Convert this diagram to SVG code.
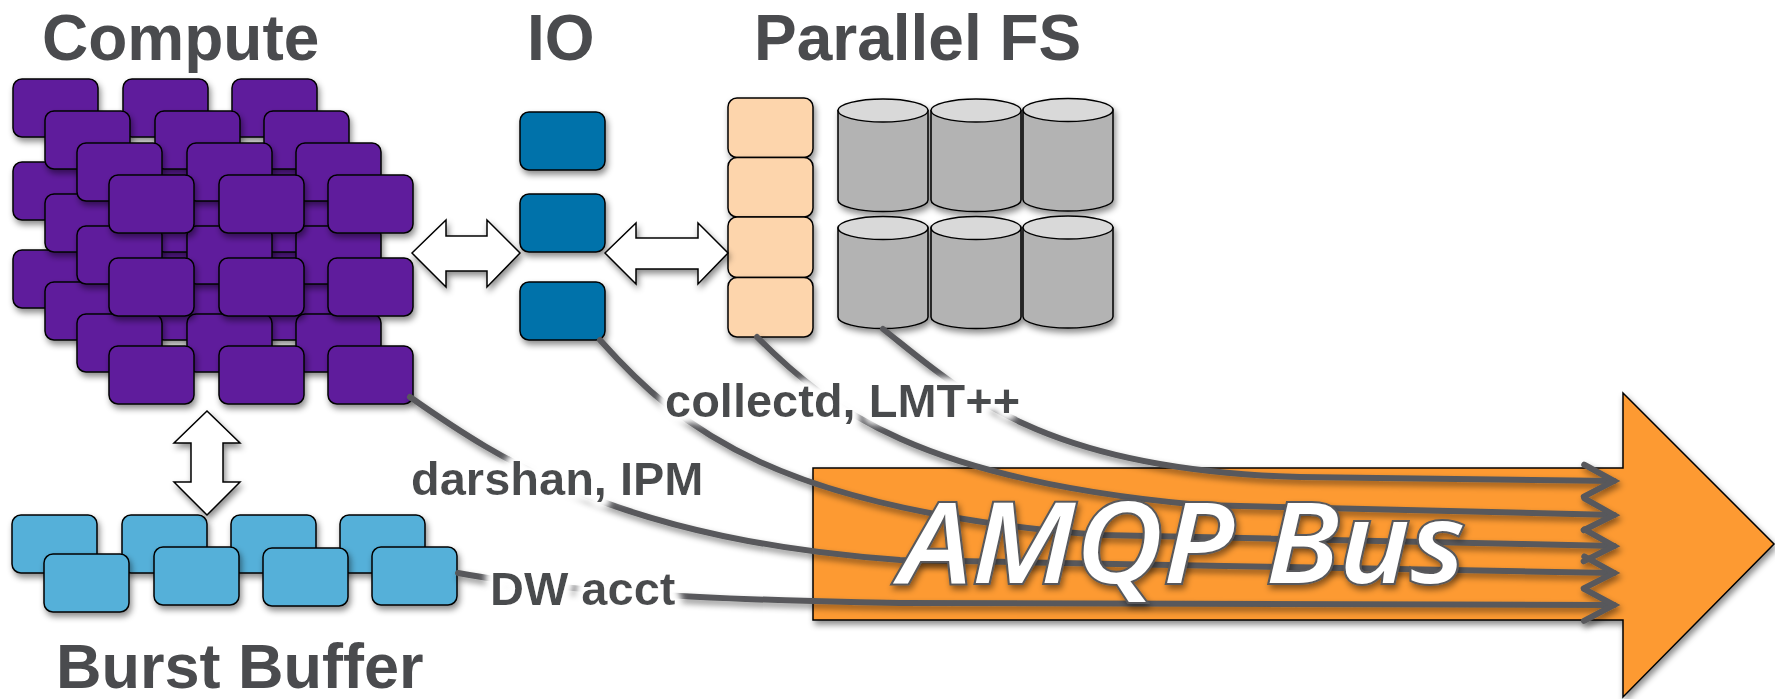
<svg xmlns="http://www.w3.org/2000/svg" width="1775" height="699" viewBox="0 0 1775 699">
<defs>
  <filter id="sh" x="-20%" y="-20%" width="140%" height="150%">
    <feDropShadow dx="2" dy="4" stdDeviation="3" flood-color="#000" flood-opacity="0.45"/>
  </filter>
  <filter id="glow" x="-10%" y="-30%" width="120%" height="160%">
    <feMorphology in="SourceAlpha" operator="dilate" radius="4" result="d"/>
    <feGaussianBlur in="d" stdDeviation="4" result="b"/>
    <feFlood flood-color="#fff"/>
    <feComposite in2="b" operator="in" result="g"/>
    <feMerge><feMergeNode in="g"/><feMergeNode in="g"/><feMergeNode in="g"/><feMergeNode in="SourceGraphic"/></feMerge>
  </filter>
  <marker id="chev" markerUnits="userSpaceOnUse" markerWidth="40" markerHeight="40" refX="0" refY="0" orient="auto" overflow="visible">
    <path d="M-30,-16 L0,0 L-30,16" fill="none" stroke="#58595b" stroke-width="6" stroke-linecap="round" stroke-linejoin="miter"/>
  </marker>
  <style>
    .cp{fill:#5f1f9c;stroke:#000;stroke-width:1.5;filter:url(#sh)}
    .io{fill:#0072aa;stroke:#000;stroke-width:1.5;filter:url(#sh)}
    .pe{fill:#fdd5ac;stroke:#000;stroke-width:1.5;filter:url(#sh)}
    .bb{fill:#54b0d9;stroke:#000;stroke-width:1.5;filter:url(#sh)}
    .cyb{fill:#b3b3b3;stroke:#000;stroke-width:1.5}
    .cyt{fill:#d9d9d9;stroke:#000;stroke-width:1.5}
    .dbl{fill:#fff;stroke:#000;stroke-width:1.5;filter:url(#sh)}
    .ttl{font-family:"Liberation Sans",Arial,sans-serif;font-weight:bold;fill:#4a4b4e}
    .lbl{font-family:"Liberation Sans",Arial,sans-serif;font-weight:bold;font-size:47px;fill:#4a4b4e;filter:url(#glow)}
    .ln{fill:none;stroke:#58595b;stroke-width:6;stroke-linecap:round;marker-end:url(#chev)}
  </style>
</defs>
<rect width="1775" height="699" fill="#fff"/>

<g id="bus">
  <polygon points="813,468 1623,468 1623,393 1774,544 1623,697 1623,620 813,620" fill="#fd9a32" stroke="#000" stroke-width="1.5" filter="url(#sh)"/>
</g>

<g id="compute">
  <text class="ttl" x="42" y="60" font-size="64">Compute</text>
  <rect class="cp" x="13" y="79" width="85" height="58" rx="9"/>
  <rect class="cp" x="123" y="79" width="85" height="58" rx="9"/>
  <rect class="cp" x="232" y="79" width="85" height="58" rx="9"/>
  <rect class="cp" x="13" y="162" width="85" height="58" rx="9"/>
  <rect class="cp" x="123" y="162" width="85" height="58" rx="9"/>
  <rect class="cp" x="232" y="162" width="85" height="58" rx="9"/>
  <rect class="cp" x="13" y="250" width="85" height="58" rx="9"/>
  <rect class="cp" x="123" y="250" width="85" height="58" rx="9"/>
  <rect class="cp" x="232" y="250" width="85" height="58" rx="9"/>
  <rect class="cp" x="45" y="111" width="85" height="58" rx="9"/>
  <rect class="cp" x="155" y="111" width="85" height="58" rx="9"/>
  <rect class="cp" x="264" y="111" width="85" height="58" rx="9"/>
  <rect class="cp" x="45" y="194" width="85" height="58" rx="9"/>
  <rect class="cp" x="155" y="194" width="85" height="58" rx="9"/>
  <rect class="cp" x="264" y="194" width="85" height="58" rx="9"/>
  <rect class="cp" x="45" y="282" width="85" height="58" rx="9"/>
  <rect class="cp" x="155" y="282" width="85" height="58" rx="9"/>
  <rect class="cp" x="264" y="282" width="85" height="58" rx="9"/>
  <rect class="cp" x="77" y="143" width="85" height="58" rx="9"/>
  <rect class="cp" x="187" y="143" width="85" height="58" rx="9"/>
  <rect class="cp" x="296" y="143" width="85" height="58" rx="9"/>
  <rect class="cp" x="77" y="226" width="85" height="58" rx="9"/>
  <rect class="cp" x="187" y="226" width="85" height="58" rx="9"/>
  <rect class="cp" x="296" y="226" width="85" height="58" rx="9"/>
  <rect class="cp" x="77" y="314" width="85" height="58" rx="9"/>
  <rect class="cp" x="187" y="314" width="85" height="58" rx="9"/>
  <rect class="cp" x="296" y="314" width="85" height="58" rx="9"/>
  <rect class="cp" x="109" y="175" width="85" height="58" rx="9"/>
  <rect class="cp" x="219" y="175" width="85" height="58" rx="9"/>
  <rect class="cp" x="328" y="175" width="85" height="58" rx="9"/>
  <rect class="cp" x="109" y="258" width="85" height="58" rx="9"/>
  <rect class="cp" x="219" y="258" width="85" height="58" rx="9"/>
  <rect class="cp" x="328" y="258" width="85" height="58" rx="9"/>
  <rect class="cp" x="109" y="346" width="85" height="58" rx="9"/>
  <rect class="cp" x="219" y="346" width="85" height="58" rx="9"/>
  <rect class="cp" x="328" y="346" width="85" height="58" rx="9"/>
</g>

<g id="io">
  <text class="ttl" x="527" y="60" font-size="64">IO</text>
  <rect class="io" x="520" y="112" width="85" height="58" rx="9"/>
  <rect class="io" x="520" y="194" width="85" height="58" rx="9"/>
  <rect class="io" x="520" y="282" width="85" height="58" rx="9"/>
</g>

<g id="pfs">
  <text class="ttl" x="754" y="60" font-size="64">Parallel FS</text>
  <rect class="pe" x="728" y="98" width="85" height="59.5" rx="9"/>
  <rect class="pe" x="728" y="157.5" width="85" height="59.5" rx="9"/>
  <rect class="pe" x="728" y="217" width="85" height="60.5" rx="9"/>
  <rect class="pe" x="728" y="277.5" width="85" height="59.5" rx="9"/>
  <g filter="url(#sh)">
    <path class="cyb" d="M838,110.5 V200 A45,11.5 0 0 0 928,200 V110.5 Z"/>
    <ellipse class="cyt" cx="883" cy="110.5" rx="45" ry="11.5"/>
    <path class="cyb" d="M931,110.5 V200 A45,11.5 0 0 0 1021,200 V110.5 Z"/>
    <ellipse class="cyt" cx="976" cy="110.5" rx="45" ry="11.5"/>
    <path class="cyb" d="M1023,110 V199.5 A45,11.5 0 0 0 1113,199.5 V110 Z"/>
    <ellipse class="cyt" cx="1068" cy="110" rx="45" ry="11.5"/>
    <path class="cyb" d="M838,228 V317 A45,11.5 0 0 0 928,317 V228 Z"/>
    <ellipse class="cyt" cx="883" cy="228" rx="45" ry="11.5"/>
    <path class="cyb" d="M931,228 V317 A45,11.5 0 0 0 1021,317 V228 Z"/>
    <ellipse class="cyt" cx="976" cy="228" rx="45" ry="11.5"/>
    <path class="cyb" d="M1023,227.5 V316.5 A45,11.5 0 0 0 1113,316.5 V227.5 Z"/>
    <ellipse class="cyt" cx="1068" cy="227.5" rx="45" ry="11.5"/>
  </g>
</g>

<g id="burstbuffer">
  <rect class="bb" x="12" y="515" width="85" height="58" rx="9"/>
  <rect class="bb" x="122" y="515" width="85" height="58" rx="9"/>
  <rect class="bb" x="231" y="515" width="85" height="58" rx="9"/>
  <rect class="bb" x="340" y="515" width="85" height="58" rx="9"/>
  <rect class="bb" x="44" y="554" width="85" height="58" rx="9"/>
  <rect class="bb" x="154" y="547" width="85" height="58" rx="9"/>
  <rect class="bb" x="263" y="548" width="85" height="58" rx="9"/>
  <rect class="bb" x="372" y="547" width="85" height="58" rx="9"/>
  <text class="ttl" x="56" y="688" font-size="63">Burst Buffer</text>
</g>

<g id="links">
  <polygon class="dbl" points="412,253 446,220 446,236 487,236 487,220 520,253 487,287 487,271 446,271 446,287"/>
  <polygon class="dbl" points="605,253 636,223 636,238 698,238 698,223 728,253 698,284 698,269 636,269 636,284"/>
  <polygon class="dbl" points="207,411 240,443 223,443 223,482 240,482 207,515 174,482 191,482 191,443 174,443"/>
</g>

<g id="connectors" filter="url(#sh)">
  <path class="ln" d="M883,329 C960,390 1040,470 1300,477 L1614,481"/>
  <path class="ln" d="M757,337 C830,410 920,480 1200,505 L1614,515"/>
  <path class="ln" d="M600,340 C680,430 780,510 1100,535 L1614,546"/>
  <path class="ln" d="M410,397 C500,460 620,540 900,560 L1614,573"/>
  <path class="ln" d="M458,573 C550,590 700,600 900,603 L1614,605"/>
</g>

<g id="labels">
  <text class="lbl" x="665" y="417">collectd, LMT++</text>
  <text class="lbl" x="411" y="495">darshan, IPM</text>
  <text class="lbl" x="490" y="605">DW acct</text>
</g>

<g id="bus-label">
  <text x="900" y="583" font-family="'Open Sans',Lato,sans-serif" font-style="italic" font-weight="600" font-size="112" textLength="565" lengthAdjust="spacingAndGlyphs" fill="#fff" stroke="#58595b" stroke-width="4" paint-order="stroke" filter="url(#sh)">AMQP Bus</text>
</g>
</svg>
